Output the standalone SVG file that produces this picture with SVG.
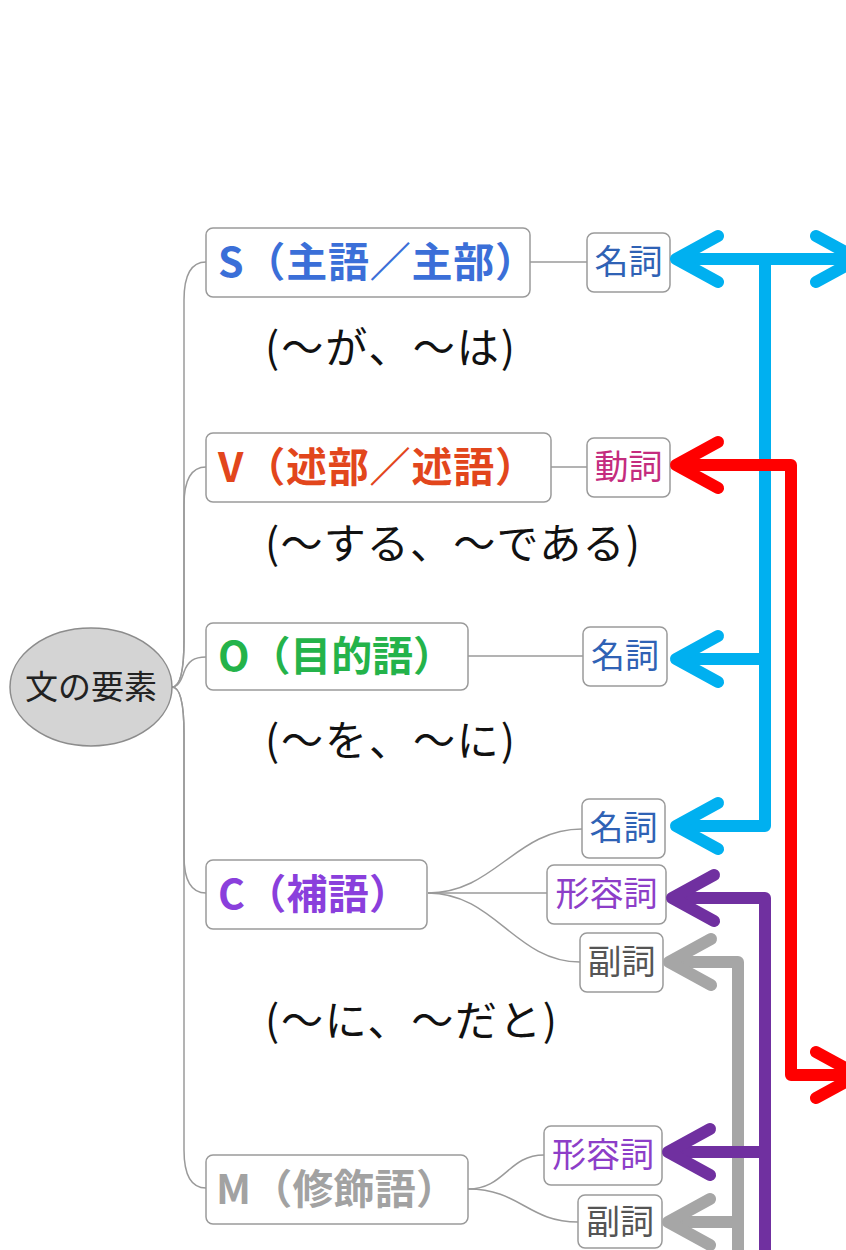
<svg xmlns="http://www.w3.org/2000/svg" width="846" height="1250" viewBox="0 0 846 1250">
<style>
.box{fill:#ffffff;stroke:#9a9a9a;stroke-width:1.5}
.main{font-family:"Noto Sans CJK JP","Noto Sans",sans-serif;font-weight:bold;font-size:41px}
.small{font-family:"Noto Sans CJK JP",sans-serif;font-size:34px;text-anchor:middle}
.lbl{font-family:"Noto Sans CJK JP",sans-serif;font-size:42px;fill:#111}
.con{fill:none;stroke:#9a9a9a;stroke-width:1.5}
.arr{fill:none;stroke-width:12;stroke-linejoin:round}
</style>
<defs>
<marker id="mb" markerUnits="userSpaceOnUse" orient="auto-start-reverse" refX="0" refY="0" markerWidth="80" markerHeight="80" overflow="visible"><path d="M-42,-23 L0,0 L-42,23" fill="none" stroke="#00b0f0" stroke-width="12" stroke-linecap="round" stroke-linejoin="round"/></marker>
<marker id="mr" markerUnits="userSpaceOnUse" orient="auto-start-reverse" refX="0" refY="0" markerWidth="80" markerHeight="80" overflow="visible"><path d="M-42,-23 L0,0 L-42,23" fill="none" stroke="#ff0000" stroke-width="12" stroke-linecap="round" stroke-linejoin="round"/></marker>
<marker id="mp" markerUnits="userSpaceOnUse" orient="auto-start-reverse" refX="0" refY="0" markerWidth="80" markerHeight="80" overflow="visible"><path d="M-42,-23 L0,0 L-42,23" fill="none" stroke="#7030a0" stroke-width="12" stroke-linecap="round" stroke-linejoin="round"/></marker>
<marker id="mg" markerUnits="userSpaceOnUse" orient="auto-start-reverse" refX="0" refY="0" markerWidth="80" markerHeight="80" overflow="visible"><path d="M-42,-23 L0,0 L-42,23" fill="none" stroke="#a6a6a6" stroke-width="12" stroke-linecap="round" stroke-linejoin="round"/></marker>
</defs>
<rect width="846" height="1250" fill="#ffffff"/>

<g id="connectors">
<path class="con" d="M172,687 C180,687 184,672 184,640 V300 C184,276 191,262 206,262"/>
<path class="con" d="M172,687 C180,687 184,672 184,640 V505 C184,480 191,467 206,467"/>
<path class="con" d="M172,687 C178,687 181,681 184,672 C188,661 194,657 206,657"/>
<path class="con" d="M172,687 C180,687 184,702 184,734 V856 C184,880 191,893 206,893"/>
<path class="con" d="M172,687 C180,687 184,702 184,734 V1150 C184,1174 191,1188 206,1188"/>
<path class="con" d="M530,262 H587"/>
<path class="con" d="M551,467 H587"/>
<path class="con" d="M468,656 H583"/>
<path class="con" d="M428,893 C495,893 515,829 582,829"/>
<path class="con" d="M428,893 H547"/>
<path class="con" d="M428,893 C495,893 515,962 580,962"/>
<path class="con" d="M468,1189 C505,1189 508,1155 544,1155"/>
<path class="con" d="M468,1189 C520,1189 528,1222 578,1222"/>
</g>

<g id="root">
<ellipse cx="91" cy="687" rx="81" ry="59" fill="#d4d4d4" stroke="#8c8c8c" stroke-width="1.5"/>
<text x="91" y="699" font-family="Noto Sans CJK JP,sans-serif" font-size="33" text-anchor="middle" fill="#222">文の要素</text>
</g>

<g id="nodeS">
<rect class="box" x="206" y="228" width="324" height="69" rx="7"/>
<text class="main" x="218" y="277" fill="#3b6fd8" textLength="318">S（主語／主部）</text>
</g>
<g id="labelS"><text class="lbl" x="265" y="363" textLength="250">(～が、～は)</text></g>

<g id="nodeV">
<rect class="box" x="206" y="433" width="345" height="69" rx="7"/>
<text class="main" x="218" y="482" fill="#e2461c" textLength="318">V（述部／述語）</text>
</g>
<g id="labelV"><text class="lbl" x="265" y="559" textLength="375">(～する、～である)</text></g>

<g id="nodeO">
<rect class="box" x="206" y="623" width="262" height="67" rx="7"/>
<text class="main" x="218" y="671" fill="#24b34a" textLength="236">O（目的語）</text>
</g>
<g id="labelO"><text class="lbl" x="265" y="756" textLength="250">(～を、～に)</text></g>

<g id="nodeC">
<rect class="box" x="206" y="860" width="221" height="69" rx="7"/>
<text class="main" x="218" y="909" fill="#8a3fdc" textLength="192">C（補語）</text>
</g>
<g id="labelC"><text class="lbl" x="265" y="1036" textLength="292">(～に、～だと)</text></g>

<g id="nodeM">
<rect class="box" x="206" y="1155" width="262" height="69" rx="7"/>
<text class="main" x="216" y="1204" fill="#a2a2a2" textLength="241">M（修飾語）</text>
</g>

<g id="nS_noun">
<rect class="box" x="587" y="233" width="83" height="59" rx="7"/>
<text class="small" x="628.5" y="274" fill="#2f62b5">名詞</text>
</g>
<g id="nV_verb">
<rect class="box" x="587" y="438" width="83" height="59" rx="7"/>
<text class="small" x="628.5" y="479" fill="#c42c7e">動詞</text>
</g>
<g id="nO_noun">
<rect class="box" x="583" y="627" width="84" height="59" rx="7"/>
<text class="small" x="625" y="668" fill="#2f62b5">名詞</text>
</g>
<g id="nC_noun">
<rect class="box" x="582" y="799" width="83" height="59" rx="7"/>
<text class="small" x="623.5" y="840" fill="#2f62b5">名詞</text>
</g>
<g id="nC_adj">
<rect class="box" x="547" y="865" width="119" height="59" rx="7"/>
<text class="small" x="606.5" y="906" fill="#8d3ec8">形容詞</text>
</g>
<g id="nC_adv">
<rect class="box" x="580" y="933" width="83" height="59" rx="7"/>
<text class="small" x="621.5" y="974" fill="#555555">副詞</text>
</g>
<g id="nM_adj">
<rect class="box" x="544" y="1126" width="118" height="59" rx="7"/>
<text class="small" x="603" y="1167" fill="#8d3ec8">形容詞</text>
</g>
<g id="nM_adv">
<rect class="box" x="578" y="1195" width="84" height="53" rx="7"/>
<text class="small" x="620" y="1234" fill="#555555">副詞</text>
</g>

<g id="arrows">
<path class="arr" stroke="#00b0f0" d="M676,259 H858" marker-start="url(#mb)" marker-end="url(#mb)"/>
<path class="arr" stroke="#00b0f0" d="M765,259 V826 H676" marker-end="url(#mb)"/>
<path class="arr" stroke="#00b0f0" d="M765,659 H676" marker-end="url(#mb)"/>
<path class="arr" stroke="#ff0000" d="M676,465 H791 V1075 H858" marker-start="url(#mr)" marker-end="url(#mr)"/>
<path class="arr" stroke="#a6a6a6" d="M669,962 H738 V1262" marker-start="url(#mg)"/>
<path class="arr" stroke="#a6a6a6" d="M738,1222 H668" marker-end="url(#mg)"/>
<path class="arr" stroke="#7030a0" d="M672,898 H765 V1262" marker-start="url(#mp)"/>
<path class="arr" stroke="#7030a0" d="M765,1152 H668" marker-end="url(#mp)"/>
</g>
</svg>
